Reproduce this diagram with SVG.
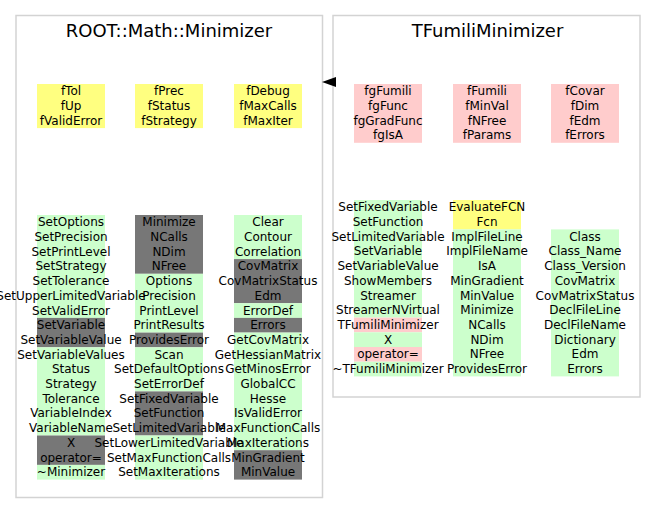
<svg xmlns="http://www.w3.org/2000/svg" width="656" height="527" viewBox="0 0 656 527">
<style>
.panel{fill:#fff;stroke:#d3d3d3;stroke-width:1.5}
.title{font-family:"DejaVu Sans",sans-serif;font-size:18px;text-anchor:middle;fill:#000}
.t{font-family:"DejaVu Sans",sans-serif;font-size:12px;text-anchor:middle;fill:#000}
.g{fill:#ccffcc}
.k{fill:#777777}
.y{fill:#ffff80}
.p{fill:#ffcccc}
</style>
<rect width="656" height="527" fill="#fff"/>
<g id="node-minimizer">
<rect class="panel" x="16" y="15.5" width="306.5" height="482"/>
<text class="title" x="169" y="37">ROOT::Math::Minimizer</text>
<g id="min-attrs">
<rect class="y" x="37" y="84" width="68" height="44.1"/>
<rect class="y" x="135" y="84" width="68" height="44.1"/>
<rect class="y" x="234" y="84" width="68" height="44.1"/>
<text class="t" x="71" y="95.3">fTol</text>
<text class="t" x="71" y="110">fUp</text>
<text class="t" x="71" y="124.7">fValidError</text>
<text class="t" x="169" y="95.3">fPrec</text>
<text class="t" x="169" y="110">fStatus</text>
<text class="t" x="169" y="124.7">fStrategy</text>
<text class="t" x="268" y="95.3">fDebug</text>
<text class="t" x="268" y="110">fMaxCalls</text>
<text class="t" x="268" y="124.7">fMaxIter</text>
</g>
<g id="min-methods">
<rect class="g" x="37" y="215" width="68" height="102.9"/>
<rect class="k" x="37" y="317.9" width="68" height="29.4"/>
<rect class="g" x="37" y="347.3" width="68" height="88.2"/>
<rect class="k" x="37" y="435.5" width="68" height="29.4"/>
<rect class="g" x="37" y="464.9" width="68" height="14.7"/>
<rect class="k" x="135" y="215" width="68" height="58.8"/>
<rect class="g" x="135" y="273.8" width="68" height="58.8"/>
<rect class="k" x="135" y="332.6" width="68" height="14.7"/>
<rect class="g" x="135" y="347.3" width="68" height="44.1"/>
<rect class="k" x="135" y="391.4" width="68" height="44.1"/>
<rect class="g" x="135" y="435.5" width="68" height="44.1"/>
<rect class="g" x="234" y="215" width="68" height="44.1"/>
<rect class="k" x="234" y="259.1" width="68" height="44.1"/>
<rect class="g" x="234" y="303.2" width="68" height="14.7"/>
<rect class="k" x="234" y="317.9" width="68" height="14.7"/>
<rect class="g" x="234" y="332.6" width="68" height="117.6"/>
<rect class="k" x="234" y="450.2" width="68" height="29.4"/>
<text class="t" x="71" y="226.3">SetOptions</text>
<text class="t" x="71" y="241">SetPrecision</text>
<text class="t" x="71" y="255.7">SetPrintLevel</text>
<text class="t" x="71" y="270.4">SetStrategy</text>
<text class="t" x="71" y="285.1">SetTolerance</text>
<text class="t" x="71" y="299.8">SetUpperLimitedVariable</text>
<text class="t" x="71" y="314.5">SetValidError</text>
<text class="t" x="71" y="329.2">SetVariable</text>
<text class="t" x="71" y="343.9">SetVariableValue</text>
<text class="t" x="71" y="358.6">SetVariableValues</text>
<text class="t" x="71" y="373.3">Status</text>
<text class="t" x="71" y="388">Strategy</text>
<text class="t" x="71" y="402.7">Tolerance</text>
<text class="t" x="71" y="417.4">VariableIndex</text>
<text class="t" x="71" y="432.1">VariableName</text>
<text class="t" x="71" y="446.8">X</text>
<text class="t" x="71" y="461.5">operator=</text>
<text class="t" x="71" y="476.2">~Minimizer</text>
<text class="t" x="169" y="226.3">Minimize</text>
<text class="t" x="169" y="241">NCalls</text>
<text class="t" x="169" y="255.7">NDim</text>
<text class="t" x="169" y="270.4">NFree</text>
<text class="t" x="169" y="285.1">Options</text>
<text class="t" x="169" y="299.8">Precision</text>
<text class="t" x="169" y="314.5">PrintLevel</text>
<text class="t" x="169" y="329.2">PrintResults</text>
<text class="t" x="169" y="343.9">ProvidesError</text>
<text class="t" x="169" y="358.6">Scan</text>
<text class="t" x="169" y="373.3">SetDefaultOptions</text>
<text class="t" x="169" y="388">SetErrorDef</text>
<text class="t" x="169" y="402.7">SetFixedVariable</text>
<text class="t" x="169" y="417.4">SetFunction</text>
<text class="t" x="169" y="432.1">SetLimitedVariable</text>
<text class="t" x="169" y="446.8">SetLowerLimitedVariable</text>
<text class="t" x="169" y="461.5">SetMaxFunctionCalls</text>
<text class="t" x="169" y="476.2">SetMaxIterations</text>
<text class="t" x="268" y="226.3">Clear</text>
<text class="t" x="268" y="241">Contour</text>
<text class="t" x="268" y="255.7">Correlation</text>
<text class="t" x="268" y="270.4">CovMatrix</text>
<text class="t" x="268" y="285.1">CovMatrixStatus</text>
<text class="t" x="268" y="299.8">Edm</text>
<text class="t" x="268" y="314.5">ErrorDef</text>
<text class="t" x="268" y="329.2">Errors</text>
<text class="t" x="268" y="343.9">GetCovMatrix</text>
<text class="t" x="268" y="358.6">GetHessianMatrix</text>
<text class="t" x="268" y="373.3">GetMinosError</text>
<text class="t" x="268" y="388">GlobalCC</text>
<text class="t" x="268" y="402.7">Hesse</text>
<text class="t" x="268" y="417.4">IsValidError</text>
<text class="t" x="268" y="432.1">MaxFunctionCalls</text>
<text class="t" x="268" y="446.8">MaxIterations</text>
<text class="t" x="268" y="461.5">MinGradient</text>
<text class="t" x="268" y="476.2">MinValue</text>
</g>
</g>
<g id="node-tfumili">
<rect class="panel" x="333" y="15.5" width="307" height="381.5"/>
<text class="title" x="487.5" y="37">TFumiliMinimizer</text>
<g id="tf-attrs">
<rect class="p" x="354" y="84" width="68" height="58.8"/>
<rect class="p" x="453" y="84" width="68" height="58.8"/>
<rect class="p" x="551" y="84" width="68" height="58.8"/>
<text class="t" x="388" y="95.3">fgFumili</text>
<text class="t" x="388" y="110">fgFunc</text>
<text class="t" x="388" y="124.7">fgGradFunc</text>
<text class="t" x="388" y="139.4">fgIsA</text>
<text class="t" x="487" y="95.3">fFumili</text>
<text class="t" x="487" y="110">fMinVal</text>
<text class="t" x="487" y="124.7">fNFree</text>
<text class="t" x="487" y="139.4">fParams</text>
<text class="t" x="585" y="95.3">fCovar</text>
<text class="t" x="585" y="110">fDim</text>
<text class="t" x="585" y="124.7">fEdm</text>
<text class="t" x="585" y="139.4">fErrors</text>
</g>
<g id="tf-methods">
<rect class="g" x="354" y="200" width="68" height="117.6"/>
<rect class="p" x="354" y="317.6" width="68" height="14.7"/>
<rect class="g" x="354" y="332.3" width="68" height="14.7"/>
<rect class="p" x="354" y="347" width="68" height="14.7"/>
<rect class="g" x="354" y="361.7" width="68" height="14.7"/>
<rect class="y" x="453" y="200" width="68" height="29.4"/>
<rect class="g" x="453" y="229.4" width="68" height="147"/>
<rect class="g" x="551" y="229.4" width="68" height="147"/>
<text class="t" x="388" y="211.3">SetFixedVariable</text>
<text class="t" x="388" y="226">SetFunction</text>
<text class="t" x="388" y="240.7">SetLimitedVariable</text>
<text class="t" x="388" y="255.4">SetVariable</text>
<text class="t" x="388" y="270.1">SetVariableValue</text>
<text class="t" x="388" y="284.8">ShowMembers</text>
<text class="t" x="388" y="299.5">Streamer</text>
<text class="t" x="388" y="314.2">StreamerNVirtual</text>
<text class="t" x="388" y="328.9">TFumiliMinimizer</text>
<text class="t" x="388" y="343.6">X</text>
<text class="t" x="388" y="358.3">operator=</text>
<text class="t" x="388" y="373">~TFumiliMinimizer</text>
<text class="t" x="487" y="211.3">EvaluateFCN</text>
<text class="t" x="487" y="226">Fcn</text>
<text class="t" x="487" y="240.7">ImplFileLine</text>
<text class="t" x="487" y="255.4">ImplFileName</text>
<text class="t" x="487" y="270.1">IsA</text>
<text class="t" x="487" y="284.8">MinGradient</text>
<text class="t" x="487" y="299.5">MinValue</text>
<text class="t" x="487" y="314.2">Minimize</text>
<text class="t" x="487" y="328.9">NCalls</text>
<text class="t" x="487" y="343.6">NDim</text>
<text class="t" x="487" y="358.3">NFree</text>
<text class="t" x="487" y="373">ProvidesError</text>
<text class="t" x="585" y="240.7">Class</text>
<text class="t" x="585" y="255.4">Class_Name</text>
<text class="t" x="585" y="270.1">Class_Version</text>
<text class="t" x="585" y="284.8">CovMatrix</text>
<text class="t" x="585" y="299.5">CovMatrixStatus</text>
<text class="t" x="585" y="314.2">DeclFileLine</text>
<text class="t" x="585" y="328.9">DeclFileName</text>
<text class="t" x="585" y="343.6">Dictionary</text>
<text class="t" x="585" y="358.3">Edm</text>
<text class="t" x="585" y="373">Errors</text>
</g>
</g>
<g id="connectors">
<polygon points="322,82 336,77 336,87" fill="#000"/>
</g>
</svg>
